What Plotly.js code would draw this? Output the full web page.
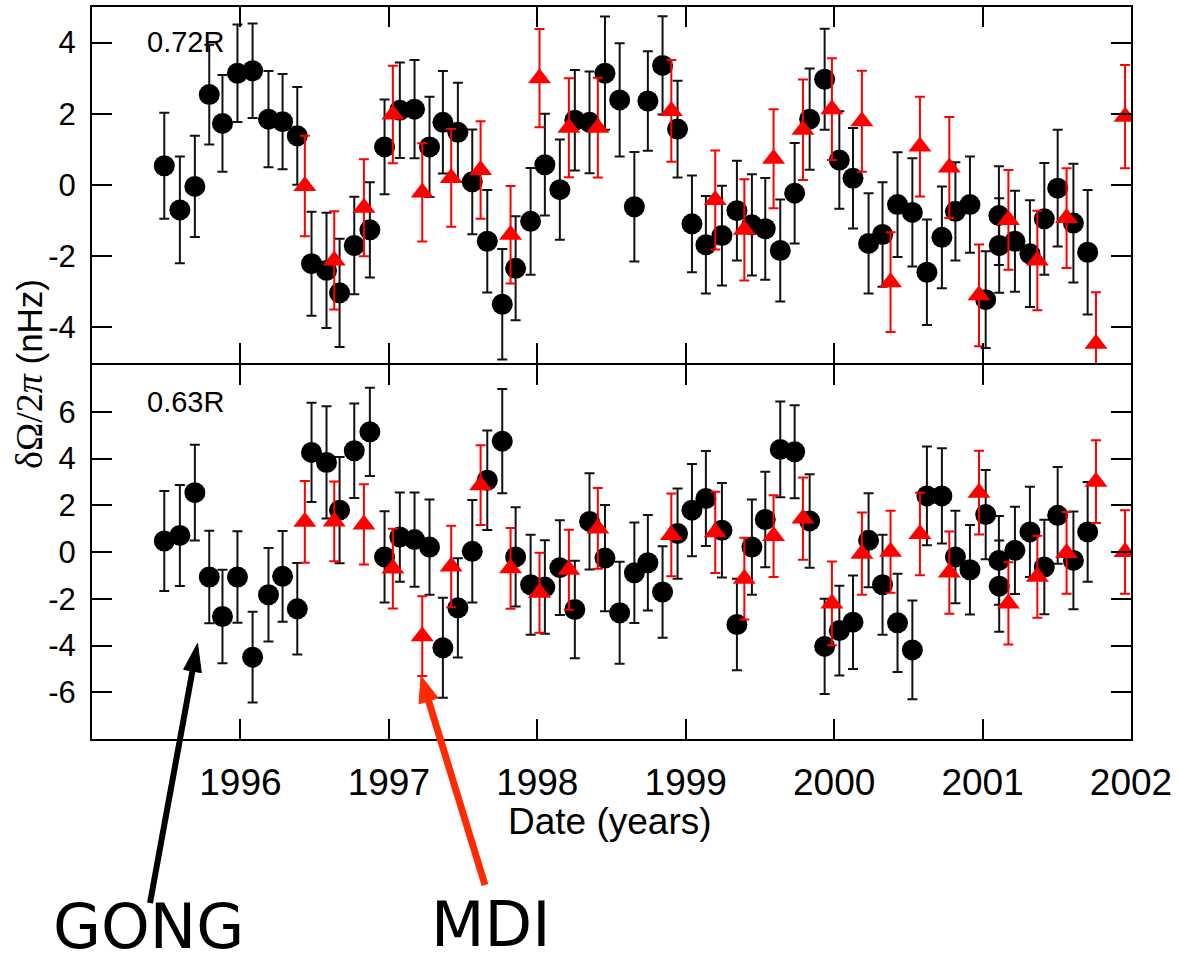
<!DOCTYPE html>
<html>
<head>
<meta charset="utf-8">
<script src="https://cdn.plot.ly/plotly-2.35.2.min.js"></script>
<style>html,body{margin:0;padding:0;background:#fff;}#chart{width:1177px;height:965px;}</style>
</head>
<body>
<div id="chart"></div>
<script>
// ---- Data ----
var gongYears = [1995.487,1995.592,1995.693,1995.790,1995.879,1995.980,1996.082,1996.189,1996.284,1996.383,
  1996.479,1996.580,1996.668,1996.767,1996.872,1996.971,1997.074,1997.173,1997.274,1997.364,
  1997.465,1997.562,1997.663,1997.764,1997.854,1997.955,1998.051,1998.152,1998.253,1998.352,
  1998.456,1998.555,1998.654,1998.745,1998.844,1998.945,1999.042,1999.136,1999.244,1999.345,
  1999.446,1999.536,1999.637,1999.734,1999.835,1999.936,2000.035,2000.127,2000.232,2000.326,
  2000.427,2000.527,2000.625,2000.726,2000.817,2000.915,2001.021,2001.110,2001.112,2001.218,
  2001.319,2001.416,2001.506,2001.612,2001.708];
var gongTop = [0.54,-0.70,-0.04,2.54,1.73,3.14,3.21,1.85,1.78,1.38,
  -2.21,-2.40,-3.03,-1.70,-1.26,1.07,2.10,2.13,1.07,1.76,
  1.48,0.09,-1.58,-3.35,-2.34,-1.02,0.57,-0.13,1.82,1.76,
  3.14,2.39,-0.61,2.36,3.36,1.57,-1.09,-1.68,-1.42,-0.72,
  -1.12,-1.23,-1.84,-0.23,1.85,2.97,0.70,0.19,-1.64,-1.39,
  -0.55,-0.77,-2.45,-1.47,-0.74,-0.55,-3.22,-0.86,-1.70,-1.58,
  -1.93,-0.95,-0.09,-1.07,-1.89];
var gongTopErr = [1.49,1.50,1.42,1.40,1.36,1.37,1.33,1.35,1.34,1.37,
  1.46,1.62,1.52,1.37,1.34,1.33,1.34,1.38,1.41,1.44,
  1.39,1.47,1.44,1.55,1.46,1.50,1.43,1.41,1.41,1.43,
  1.59,1.59,1.54,1.40,1.38,1.36,1.36,1.37,1.40,1.40,
  1.42,1.43,1.43,1.41,1.42,1.42,1.37,1.41,1.41,1.47,
  1.47,1.52,1.48,1.43,1.38,1.35,1.36,1.39,1.33,1.42,
  1.50,1.57,1.64,1.67,1.75];
var gongBottom = [0.47,0.71,2.54,-1.07,-2.76,-1.07,-4.50,-1.83,-1.04,-2.43,
  4.26,3.83,1.79,4.33,5.14,-0.21,0.64,0.53,0.21,-4.10,
  -2.39,0.03,3.07,4.74,-0.21,-1.40,-1.50,-0.67,-2.46,1.31,
  -0.26,-2.60,-0.89,-0.46,-1.71,0.79,1.79,2.29,0.93,-3.10,
  0.21,1.39,4.39,4.29,1.33,-4.04,-3.36,-3.00,0.50,-1.40,
  -3.03,-4.19,2.40,2.40,-0.21,-0.76,1.60,-0.36,-1.46,0.07,
  0.86,-0.64,1.57,-0.36,0.86];
var gongBottomErr = [2.14,2.16,2.05,1.98,2.00,1.96,1.94,2.00,1.94,1.96,
  2.12,2.40,2.27,2.02,1.89,1.95,1.91,2.02,2.04,2.14,
  2.12,2.19,2.13,2.23,2.12,2.14,2.00,2.03,2.09,2.06,
  2.27,2.18,2.15,2.04,1.96,1.93,1.97,2.03,2.02,1.96,
  2.04,2.04,2.05,1.99,2.00,2.04,1.92,2.00,2.01,2.14,
  2.10,2.11,2.11,2.04,1.98,1.91,1.91,1.90,1.95,1.87,
  1.93,2.02,2.07,2.09,2.13];

var mdiYears = [1996.434,1996.632,1996.832,1997.027,1997.225,1997.420,1997.618,1997.820,1998.015,1998.213,
  1998.408,1998.903,1999.199,1999.395,1999.592,1999.790,1999.985,2000.187,2000.380,2000.578,
  2000.776,2000.976,2001.174,2001.369,2001.566,2001.764,2001.960];
var mdiTop = [-0.03,-2.12,-0.64,1.98,-0.21,0.20,0.42,-1.40,3.00,1.61,
  1.61,2.08,-0.42,-1.26,0.74,1.55,2.13,1.79,-2.73,1.08,
  0.49,-3.10,-0.98,-2.12,-0.93,-4.46,1.92];
var mdiTopErr = [1.41,1.38,1.36,1.37,1.38,1.37,1.37,1.37,1.38,1.39,
  1.40,1.43,1.39,1.42,1.39,1.41,1.43,1.42,1.40,1.40,
  1.42,1.43,1.40,1.40,1.40,1.45,1.45];
var mdiBottom = [1.29,1.31,1.18,-0.71,-3.60,-0.62,2.86,-0.70,-1.74,-0.76,
  1.01,0.73,0.84,-1.14,0.68,1.43,-2.20,-0.07,0.01,0.77,
  -0.88,2.54,-2.20,-1.06,-0.04,3.01,0.00];
var mdiBottomErr = [1.75,1.71,1.72,1.71,1.71,1.74,1.71,1.73,1.71,1.71,
  1.73,1.77,1.74,1.75,1.75,1.76,1.79,1.76,1.75,1.76,
  1.76,1.79,1.76,1.75,1.75,1.77,1.79];

var xTickVals = [1996,1997,1998,1999,2000,2001,2002];
var xTickText = ['1996','1997','1998','1999','2000','2001','2002'];
var yTopTickVals = [-4,-2,0,2,4];
var yTopTickText = ['-4','-2','0','2','4'];
var yBotTickVals = [-6,-4,-2,0,2,4,6];
var yBotTickText = ['-6','-4','-2','0','2','4','6'];

// ---- Layout geometry ----
var W = 1177, H = 965;
var M = {l: 92, r: 46, t: 7, b: 226};
var PW = W - M.l - M.r, PH = H - M.t - M.b;
function px(xp){ return (xp - M.l) / PW; }
function py(yp){ return (H - M.b - yp) / PH; }
var split = py(364);

var FONT = 'Liberation Sans, Arial, Helvetica, sans-serif';

function trace(x, y, err, xa, ya, isMdi){
  return {
    x: x, y: y, xaxis: xa, yaxis: ya, type: 'scatter', mode: 'markers',
    marker: isMdi ? {symbol: 'triangle-up', size: 20, color: '#ff0000'} : {symbol: 'circle', size: 21, color: '#000000'},
    error_y: {type: 'data', array: err, visible: true, color: isMdi ? '#ff0000' : '#111111', thickness: 2, width: 5},
    showlegend: false, hoverinfo: 'x+y'
  };
}

var data = [
  trace(gongYears, gongTop, gongTopErr, 'x2', 'y2', false),
  trace(mdiYears, mdiTop, mdiTopErr, 'x2', 'y2', true),
  trace(gongYears, gongBottom, gongBottomErr, 'x', 'y', false),
  trace(mdiYears, mdiBottom, mdiBottomErr, 'x', 'y', true)
];

var axCommon = {
  showline: true, linecolor: '#000', linewidth: 2, mirror: 'ticks',
  ticks: 'inside', ticklen: 20, tickwidth: 2, tickcolor: '#000',
  showgrid: false, zeroline: false, tickmode: 'array'
};

function arrowShapes(tip, tail, color, lw, hl, hw){
  var dx = tip[0]-tail[0], dy = tip[1]-tail[1];
  var L = Math.sqrt(dx*dx+dy*dy), ux = dx/L, uy = dy/L;
  var bx = tip[0]-hl*ux, by = tip[1]-hl*uy;
  var nx = -uy, ny = ux;
  var p1 = [bx+hw*nx, by+hw*ny], p2 = [bx-hw*nx, by-hw*ny];
  return [
    {type:'line', xref:'paper', yref:'paper', x0: px(tail[0]), y0: py(tail[1]), x1: px(bx+2*ux), y1: py(by+2*uy),
     line:{color: color, width: lw}},
    {type:'path', xref:'paper', yref:'paper',
     path: 'M'+px(tip[0])+','+py(tip[1])+' L'+px(p1[0])+','+py(p1[1])+' L'+px(p2[0])+','+py(p2[1])+' Z',
     fillcolor: color, line:{color: color, width: 1}}
  ];
}

var shapes = [].concat(
  arrowShapes([197.5, 643.5], [150, 903], '#000000', 6, 28, 9),
  arrowShapes([421, 676], [485, 885], '#ff2a00', 7, 26, 10)
);

var layout = {
  width: W, height: H,
  margin: {l: M.l, r: M.r, t: M.t, b: M.b, pad: 0},
  paper_bgcolor: '#fff', plot_bgcolor: '#fff',
  font: {family: FONT, color: '#000'},
  showlegend: false,
  xaxis: Object.assign({}, axCommon, {
    domain: [0, 1], anchor: 'y', range: [1995, 2002],
    tickvals: xTickVals, ticktext: xTickText,
    tickfont: {family: FONT, size: 37, color: '#000'}, ticklabelstandoff: 10
  }),
  xaxis2: Object.assign({}, axCommon, {
    domain: [0, 1], anchor: 'y2', range: [1995, 2002], matches: 'x',
    tickvals: xTickVals, ticktext: xTickText, showticklabels: false
  }),
  yaxis: Object.assign({}, axCommon, {
    domain: [0, split - 1/PH], anchor: 'x', range: [-8, 8],
    tickvals: yBotTickVals, ticktext: yBotTickText,
    tickfont: {family: FONT, size: 31, color: '#000'}, ticklabelstandoff: 8
  }),
  yaxis2: Object.assign({}, axCommon, {
    domain: [split + 1/PH, 1], anchor: 'x2', range: [-5, 5],
    tickvals: yTopTickVals, ticktext: yTopTickText,
    tickfont: {family: FONT, size: 31, color: '#000'}, ticklabelstandoff: 8
  }),
  shapes: shapes,
  annotations: [
    {xref:'x2', yref:'y2', x: 1995.354, y: 4.03, xanchor:'left', yanchor:'middle', showarrow:false,
     text:'0.72R', font:{family: FONT, size: 29, color:'#000'}},
    {xref:'x', yref:'y', x: 1995.354, y: 6.4, xanchor:'left', yanchor:'middle', showarrow:false,
     text:'0.63R', font:{family: FONT, size: 29, color:'#000'}},
    {xref:'paper', yref:'paper', x: px(29), y: py(374), xanchor:'center', yanchor:'middle', showarrow:false,
     textangle: -90,
     text:'<span style="font-family:Liberation Serif, Times New Roman, serif;font-size:38px">δΩ/2<i>π</i></span> (nHz)',
     font:{family: FONT, size: 35, color:'#000'}},
    {xref:'paper', yref:'paper', x: px(610), y: py(821), xanchor:'center', yanchor:'middle', showarrow:false,
     text:'Date (years)', font:{family: FONT, size: 37, color:'#000'}},
    {xref:'paper', yref:'paper', x: px(148.5), y: py(964), xanchor:'center', yanchor:'bottom', showarrow:false,
     borderpad: 0,
     text:'GONG', font:{family: 'DejaVu Sans, Verdana, sans-serif', size: 62, color:'#000'}},
    {xref:'paper', yref:'paper', x: px(490.5), y: py(962), xanchor:'center', yanchor:'bottom', showarrow:false,
     borderpad: 0,
     text:'MDI', font:{family: 'DejaVu Sans, Verdana, sans-serif', size: 62, color:'#000'}}
  ]
};

Plotly.newPlot('chart', data, layout, {displayModeBar: false, staticPlot: true});
</script>
</body>
</html>
